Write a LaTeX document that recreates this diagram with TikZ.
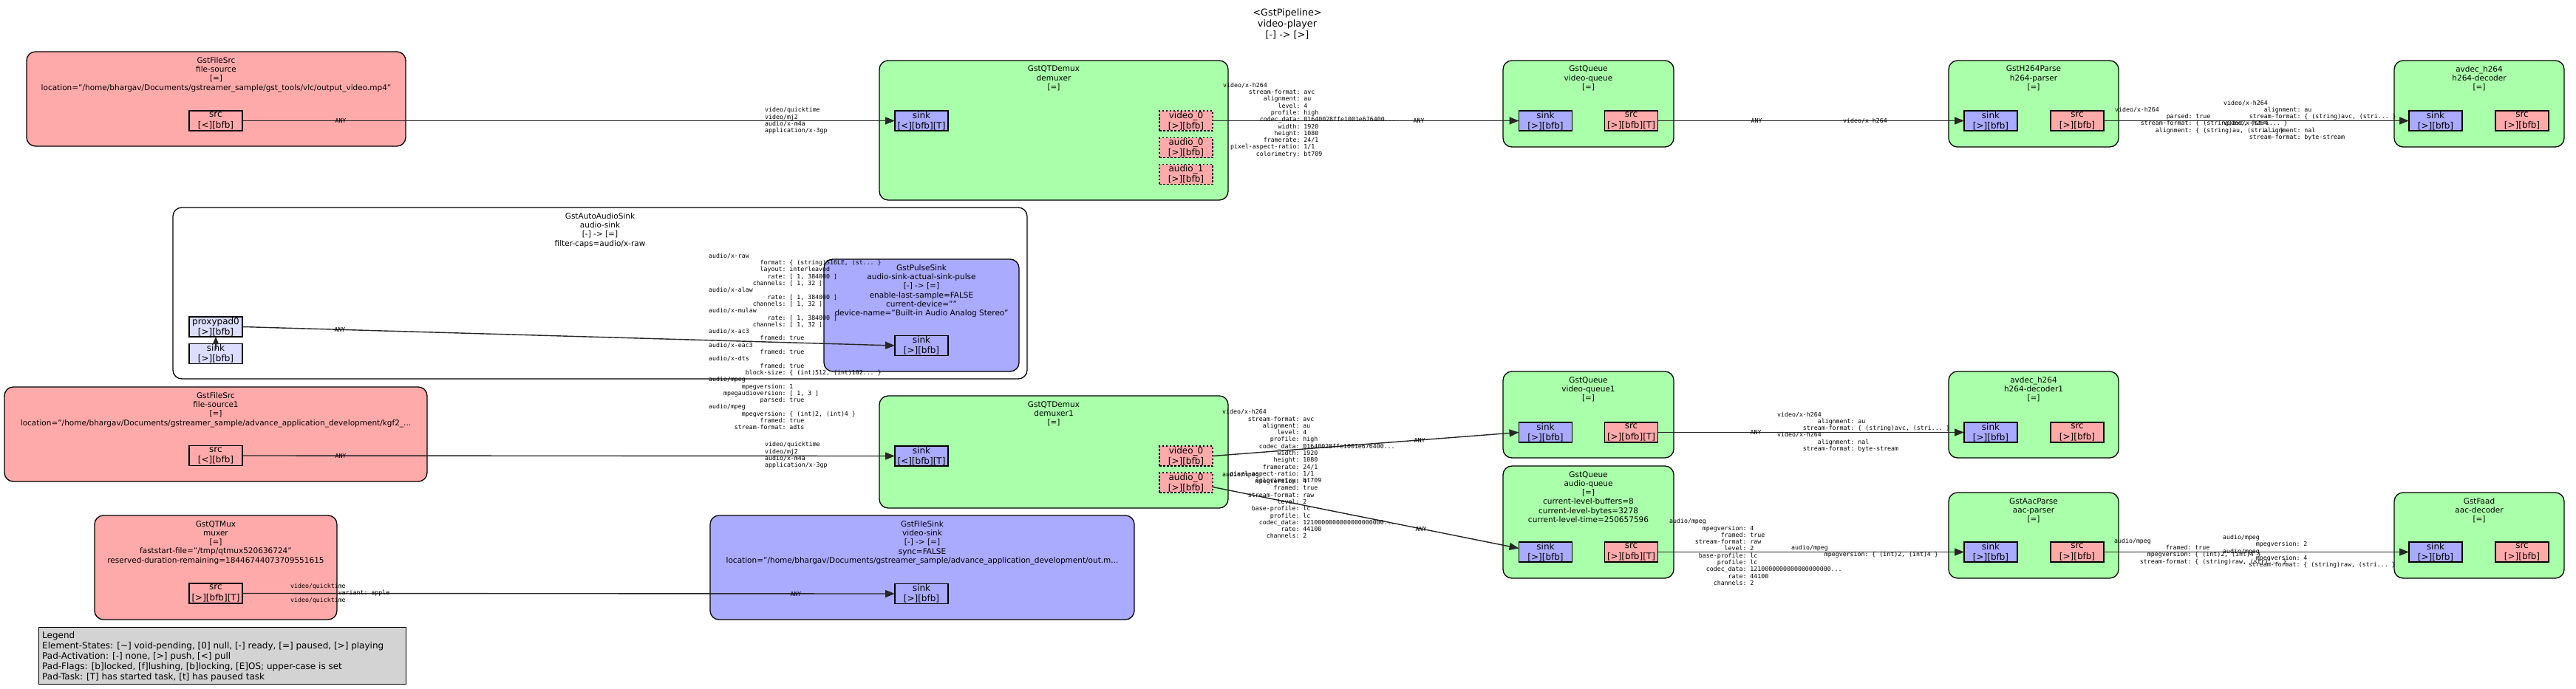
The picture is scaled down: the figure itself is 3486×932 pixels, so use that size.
\documentclass[tikz,border=0pt]{standalone}
\usepackage{fontspec}
\setmainfont{DejaVu Sans}
\setmonofont{DejaVu Sans Mono}
\usetikzlibrary{arrows.meta}
\definecolor{gfill}{HTML}{AAFFAA}
\definecolor{pfill}{HTML}{FFAAAA}
\definecolor{bfill}{HTML}{AAAAFF}
\definecolor{ghost}{HTML}{DDDDFF}
\definecolor{legendc}{HTML}{D3D3D3}
\newcommand\cf[2]{\makebox[12.04em][r]{#1}: #2}
\newcommand\mkelem[7]{%
  \node[elembox, fill=#6, minimum width={#4-#2}, minimum height={#5-#3}, anchor=north west] (#1) at (#2,#3) {};
  \node[ctitle] (#1-t) at ([yshift=-7pt]#1.north) {#7};}
\newcommand\mkpad[5]{\node[#2, label={[padtxt]center:{#5}}] (#1) at (#3,#4) {};}
\begin{document}
\begin{tikzpicture}[x=1pt,y=-1pt,
 elembox/.style={draw=black, line width=1.3pt, rounded corners=12pt, inner sep=0pt, outer sep=0pt},
 ctitle/.style={font=\fontsize{10.5}{12.3}\selectfont, align=center, inner sep=0pt, anchor=north},
 padbox/.style={draw=black, line width=1.1pt, minimum width=72pt, minimum height=27pt, inner sep=0pt, outer sep=0pt},
 sinkpad/.style={padbox, fill=bfill},
 srcpad/.style={padbox, fill=pfill},
 spad/.style={padbox, fill=pfill, dash pattern=on 2.5pt off 2.5pt},
 gpad/.style={padbox, fill=ghost},
 padtxt/.style={font=\fontsize{12}{14.3}\selectfont, align=center, inner sep=0pt},
 capl/.style={font=\fontsize{8.25}{9.3}\selectfont\ttfamily, align=left, inner sep=0pt, anchor=west},
 anyl/.style={font=\fontsize{8.25}{9.3}\selectfont\ttfamily, inner sep=0pt},
 conn/.style={line width=1.4pt, draw=black!85, -{Triangle[length=13pt,width=10pt]}}
]
\fill[white] (0,0) rectangle (3486,932);
\node[font=\fontsize{12.8}{15}\selectfont, align=center, inner sep=0pt, anchor=north] (gtitle) at (1742,12) {<GstPipeline>\\video-player\\{[-] -> [>]}};

% elements
\mkelem{fs}{36}{70}{549}{198}{pfill}{GstFileSrc\\file-source\\{[=]}\\location="/home/bhargav/Documents/gstreamer\_sample/gst\_tools/vlc/output\_video.mp4"}
\mkelem{dm}{1190}{82}{1662}{271}{gfill}{GstQTDemux\\demuxer\\{[=]}}
\mkelem{vq}{2034}{82}{2265}{199}{gfill}{GstQueue\\video-queue\\{[=]}}
\mkelem{hp}{2637}{82}{2867}{199}{gfill}{GstH264Parse\\h264-parser\\{[=]}}
\mkelem{hd}{3240}{82}{3470}{199}{gfill}{avdec\_h264\\h264-decoder\\{[=]}}
\mkelem{as}{234}{281}{1390}{513}{white}{GstAutoAudioSink\\audio-sink\\{[-] -> [=]}\\filter-caps=audio/x-raw}
\mkelem{ps}{1115}{351}{1379}{503}{bfill}{GstPulseSink\\audio-sink-actual-sink-pulse\\{[-] -> [=]}\\enable-last-sample=FALSE\\current-device=""\\device-name="Built-in Audio Analog Stereo"}
\mkelem{fs1}{6}{524}{578}{652}{pfill}{GstFileSrc\\file-source1\\{[=]}\\location="/home/bhargav/Documents/gstreamer\_sample/advance\_application\_development/kgf2\_...}
\mkelem{dm1}{1190}{536}{1662}{688}{gfill}{GstQTDemux\\demuxer1\\{[=]}}
\mkelem{vq1}{2034}{503}{2265}{620}{gfill}{GstQueue\\video-queue1\\{[=]}}
\mkelem{hd1}{2637}{503}{2867}{620}{gfill}{avdec\_h264\\h264-decoder1\\{[=]}}
\mkelem{aq}{2034}{631}{2265}{783}{gfill}{GstQueue\\audio-queue\\{[=]}\\current-level-buffers=8\\current-level-bytes=3278\\current-level-time=250657596}
\mkelem{ap}{2637}{667}{2867}{783}{gfill}{GstAacParse\\aac-parser\\{[=]}}
\mkelem{ad}{3240}{667}{3470}{783}{gfill}{GstFaad\\aac-decoder\\{[=]}}
\mkelem{mx}{128}{698}{456}{839}{pfill}{GstQTMux\\muxer\\{[=]}\\faststart-file="/tmp/qtmux520636724"\\reserved-duration-remaining=18446744073709551615}
\mkelem{vs}{961}{698}{1535}{839}{bfill}{GstFileSink\\video-sink\\{[-] -> [=]}\\sync=FALSE\\location="/home/bhargav/Documents/gstreamer\_sample/advance\_application\_development/out.m...}

% pads
\mkpad{fs-src}{srcpad}{292}{163.5}{src\\{[<][bfb]}}
\mkpad{dm-sink}{sinkpad}{1247}{163.5}{sink\\{[<][bfb][T]}}
\mkpad{dm-v0}{spad}{1605}{163.5}{video\_0\\{[>][bfb]}}
\mkpad{dm-a0}{spad}{1605}{200}{audio\_0\\{[>][bfb]}}
\mkpad{dm-a1}{spad}{1605}{236}{audio\_1\\{[>][bfb]}}
\mkpad{vq-sink}{sinkpad}{2091.5}{163.5}{sink\\{[>][bfb]}}
\mkpad{vq-src}{srcpad}{2207.5}{163.5}{src\\{[>][bfb][T]}}
\mkpad{hp-sink}{sinkpad}{2694}{163.5}{sink\\{[>][bfb]}}
\mkpad{hp-src}{srcpad}{2811}{163.5}{src\\{[>][bfb]}}
\mkpad{hd-sink}{sinkpad}{3296}{163.5}{sink\\{[>][bfb]}}
\mkpad{hd-src}{srcpad}{3413}{163.5}{src\\{[>][bfb]}}
\mkpad{as-proxy}{gpad}{292}{442.5}{proxypad0\\{[>][bfb]}}
\mkpad{as-sink}{gpad}{292}{479}{sink\\{[>][bfb]}}
\mkpad{ps-sink}{sinkpad}{1247}{468}{sink\\{[>][bfb]}}
\mkpad{fs1-src}{srcpad}{292}{617}{src\\{[<][bfb]}}
\mkpad{dm1-sink}{sinkpad}{1247}{617.5}{sink\\{[<][bfb][T]}}
\mkpad{dm1-v0}{spad}{1605}{617.5}{video\_0\\{[>][bfb]}}
\mkpad{dm1-a0}{spad}{1605}{653.5}{audio\_0\\{[>][bfb]}}
\mkpad{vq1-sink}{sinkpad}{2091.5}{585.5}{sink\\{[>][bfb]}}
\mkpad{vq1-src}{srcpad}{2207.5}{585.5}{src\\{[>][bfb][T]}}
\mkpad{hd1-sink}{sinkpad}{2694}{585.5}{sink\\{[>][bfb]}}
\mkpad{hd1-src}{srcpad}{2811}{585.5}{src\\{[>][bfb]}}
\mkpad{aq-sink}{sinkpad}{2091.5}{747.5}{sink\\{[>][bfb]}}
\mkpad{aq-src}{srcpad}{2207.5}{747.5}{src\\{[>][bfb][T]}}
\mkpad{ap-sink}{sinkpad}{2694}{747.5}{sink\\{[>][bfb]}}
\mkpad{ap-src}{srcpad}{2811}{747.5}{src\\{[>][bfb]}}
\mkpad{ad-sink}{sinkpad}{3296}{747.5}{sink\\{[>][bfb]}}
\mkpad{ad-src}{srcpad}{3413}{747.5}{src\\{[>][bfb]}}
\mkpad{mx-src}{srcpad}{292}{803.5}{src\\{[>][bfb][T]}}
\mkpad{vs-sink}{sinkpad}{1247}{804}{sink\\{[>][bfb]}}

% connectors
\draw[conn] (fs-src.east) -- (dm-sink.west);
\draw[conn] (dm-v0.east) -- (vq-sink.west);
\draw[conn] (vq-src.east) -- (hp-sink.west);
\draw[conn] (hp-src.east) -- (hd-sink.west);
\draw[conn] (as-proxy.east) -- (ps-sink.west);
\draw[conn, -{Triangle[length=10pt,width=8pt]}] ([yshift=-7pt]as-sink.north) -- (as-proxy.south);
\draw[conn] (fs1-src.east) -- (dm1-sink.west);
\draw[conn] (dm1-v0.east) -- (vq1-sink.west);
\draw[conn] ([yshift=-6pt]dm1-a0.east) -- ([yshift=5pt]aq-sink.west);
\draw[conn] (vq1-src.east) -- (hd1-sink.west);
\draw[conn] (aq-src.east) -- (ap-sink.west);
\draw[conn] (ap-src.east) -- (ad-sink.west);
\draw[conn] (mx-src.east) -- (vs-sink.west);

% caps labels
\node[anyl] (l-fs) at (461,163.5) {ANY};
\node[capl] (l-dm) at (1035,163.5) {video/quicktime\\video/mj2\\audio/x-m4a\\application/x-3gp};
\node[capl] (l-dmv) at (1655,162.5) {video/x-h264\\\cf{stream-format}{avc}\\\cf{alignment}{au}\\\cf{level}{4}\\\cf{profile}{high}\\\cf{codec\_data}{01640028ffe1001e676400...}\\\cf{width}{1920}\\\cf{height}{1080}\\\cf{framerate}{24/1}\\\cf{pixel-aspect-ratio}{1/1}\\\cf{colorimetry}{bt709}};
\node[anyl] (l-vqs) at (1920,163.5) {ANY};
\node[anyl] (l-vqo) at (2377,163.5) {ANY};
\node[anyl] (l-hps) at (2524,163.5) {video/x-h264};
\node[capl] (l-hpo) at (2862,163) {video/x-h264\\\cf{parsed}{true}\\\cf{stream-format}{\{ (string)avc, (stri... \}}\\\cf{alignment}{\{ (string)au, (stri... \}}};
\node[capl] (l-hds) at (3009,163) {video/x-h264\\\cf{alignment}{au}\\\cf{stream-format}{\{ (string)avc, (stri... \}}\\video/x-h264\\\cf{alignment}{nal}\\\cf{stream-format}{byte-stream}};
\node[anyl] (l-px) at (460,446.5) {ANY};
\node[capl] (l-ps) at (959,462.5) {audio/x-raw\\\cf{format}{\{ (string)S16LE, (st... \}}\\\cf{layout}{interleaved}\\\cf{rate}{[ 1, 384000 ]}\\\cf{channels}{[ 1, 32 ]}\\audio/x-alaw\\\cf{rate}{[ 1, 384000 ]}\\\cf{channels}{[ 1, 32 ]}\\audio/x-mulaw\\\cf{rate}{[ 1, 384000 ]}\\\cf{channels}{[ 1, 32 ]}\\audio/x-ac3\\\cf{framed}{true}\\audio/x-eac3\\\cf{framed}{true}\\audio/x-dts\\\cf{framed}{true}\\\cf{block-size}{\{ (int)512, (int)102... \}}\\audio/mpeg\\\cf{mpegversion}{1}\\\cf{mpegaudioversion}{[ 1, 3 ]}\\\cf{parsed}{true}\\audio/mpeg\\\cf{mpegversion}{\{ (int)2, (int)4 \}}\\\cf{framed}{true}\\\cf{stream-format}{adts}};
\node[anyl] (l-fs1) at (461,617) {ANY};
\node[capl] (l-dm1) at (1035,616.5) {video/quicktime\\video/mj2\\audio/x-m4a\\application/x-3gp};
\node[capl] (l-dm1v) at (1654,605) {video/x-h264\\\cf{stream-format}{avc}\\\cf{alignment}{au}\\\cf{level}{4}\\\cf{profile}{high}\\\cf{codec\_data}{01640028ffe1001e676400...}\\\cf{width}{1920}\\\cf{height}{1080}\\\cf{framerate}{24/1}\\\cf{pixel-aspect-ratio}{1/1}\\\cf{colorimetry}{bt709}};
\node[capl] (l-dm1a) at (1654,684) {audio/mpeg\\\cf{mpegversion}{4}\\\cf{framed}{true}\\\cf{stream-format}{raw}\\\cf{level}{2}\\\cf{base-profile}{lc}\\\cf{profile}{lc}\\\cf{codec\_data}{1210000000000000000000...}\\\cf{rate}{44100}\\\cf{channels}{2}};
\node[anyl] (l-vq1s) at (1921,596) {ANY};
\node[anyl] (l-aqs) at (1923,716) {ANY};
\node[anyl] (l-vq1o) at (2376,585) {ANY};
\node[capl] (l-hd1s) at (2405,585) {video/x-h264\\\cf{alignment}{au}\\\cf{stream-format}{\{ (string)avc, (stri... \}}\\video/x-h264\\\cf{alignment}{nal}\\\cf{stream-format}{byte-stream}};
\node[capl] (l-aqo) at (2259,747.5) {audio/mpeg\\\cf{mpegversion}{4}\\\cf{framed}{true}\\\cf{stream-format}{raw}\\\cf{level}{2}\\\cf{base-profile}{lc}\\\cf{profile}{lc}\\\cf{codec\_data}{1210000000000000000000...}\\\cf{rate}{44100}\\\cf{channels}{2}};
\node[capl] (l-aps) at (2424,747) {audio/mpeg\\\cf{mpegversion}{\{ (int)2, (int)4 \}}};
\node[capl] (l-apo) at (2861,747) {audio/mpeg\\\cf{framed}{true}\\\cf{mpegversion}{\{ (int)2, (int)4 \}}\\\cf{stream-format}{\{ (string)raw, (stri... \}}};
\node[capl] (l-ads) at (3008,747) {audio/mpeg\\\cf{mpegversion}{2}\\audio/mpeg\\\cf{mpegversion}{4}\\\cf{stream-format}{\{ (string)raw, (stri... \}}};
\node[capl] (l-mx) at (393,803.5) {video/quicktime\\\cf{variant}{apple}\\video/quicktime};
\node[anyl] (l-vs) at (1077,804) {ANY};

% legend
\node[draw=black, line width=1.1pt, fill=legendc, minimum width=497pt, minimum height=77pt, anchor=north west, inner sep=0pt] (legend) at (52,849) {};
\node[font=\fontsize{12}{14}\selectfont, align=left, inner sep=0pt, anchor=north west] (legend-t) at (57,855) {Legend\\Element-States: [\textasciitilde] void-pending, [0] null, [-] ready, [=] paused, [>] playing\\Pad-Activation: [-] none, [>] push, [<] pull\\Pad-Flags: [b]locked, [f]lushing, [b]locking, [E]OS; upper-case is set\\Pad-Task: [T] has started task, [t] has paused task};
\end{tikzpicture}
\end{document}
